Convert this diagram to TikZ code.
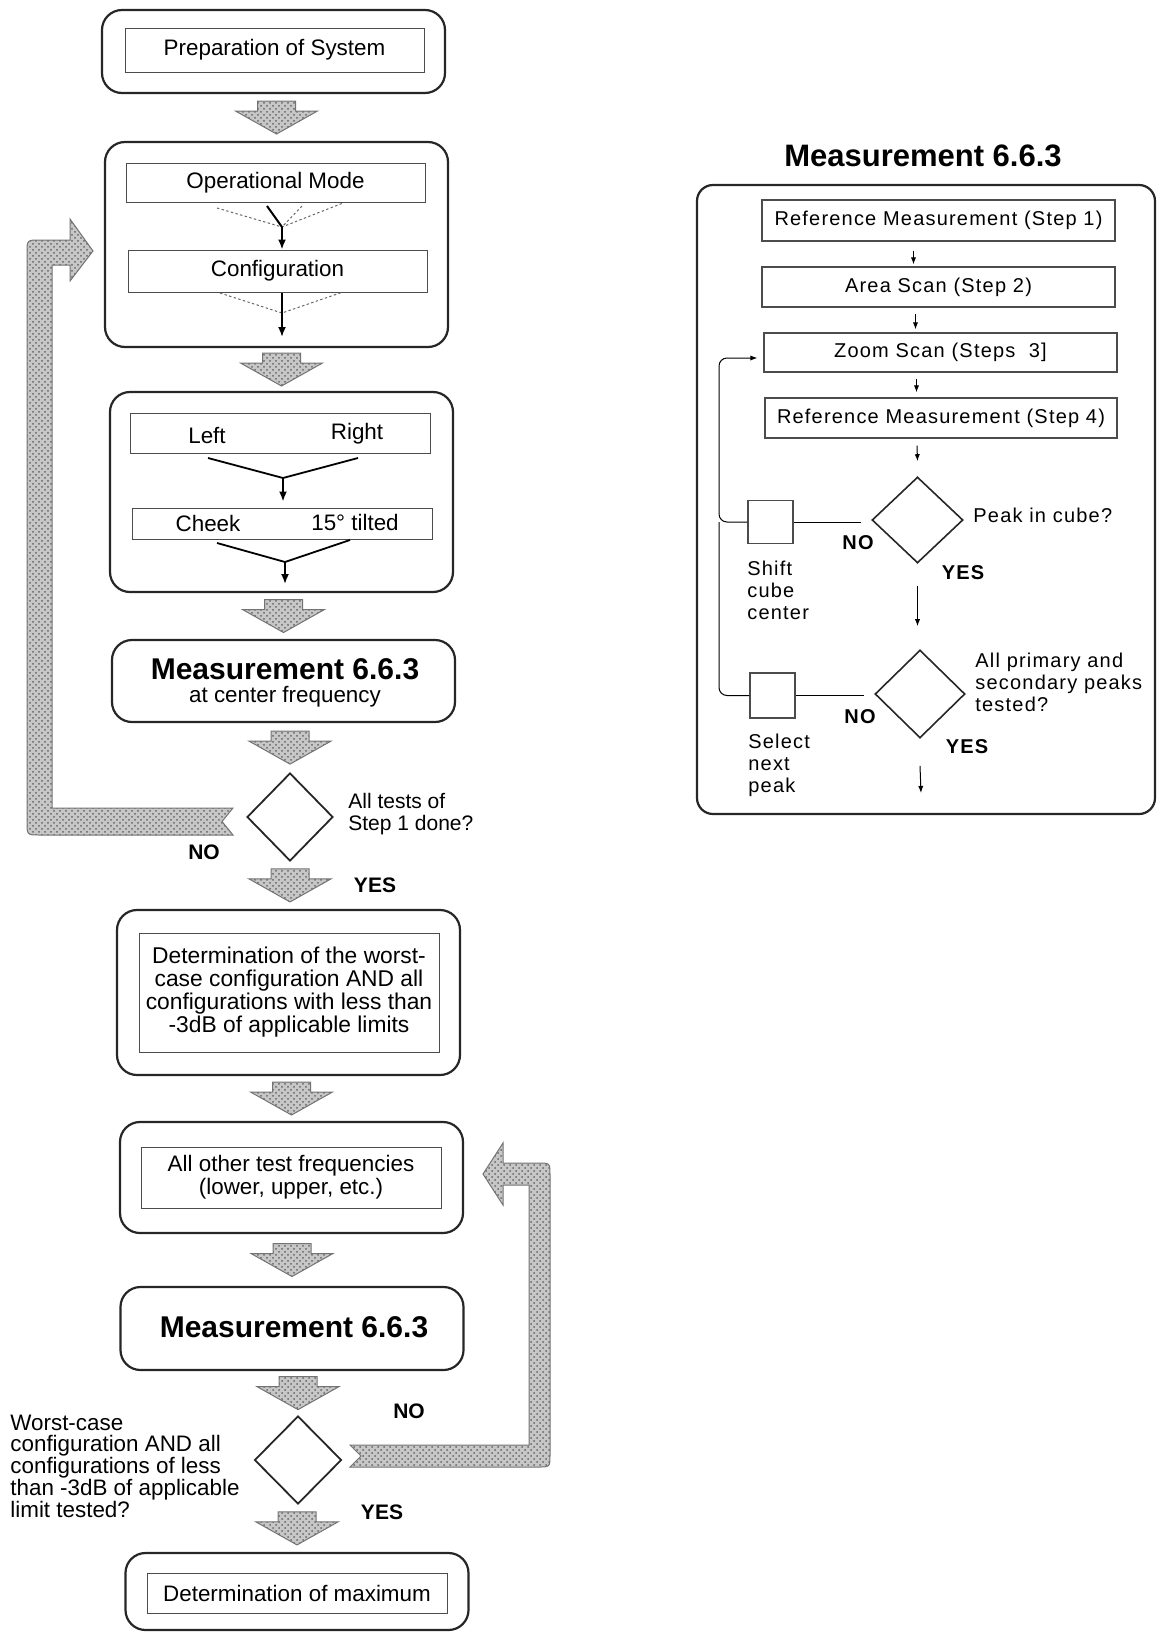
\documentclass[tikz,border=0pt]{standalone}
\usepackage{fontspec}
\setmainfont{Liberation Sans}
\newfontfamily\rfont[LetterSpace=6]{Liberation Sans}
\usetikzlibrary{shapes.geometric,arrows.meta,calc,patterns}
\tikzset{
 outer/.style={draw=black!85, line width=1.1pt, rounded corners=10pt, inner sep=0pt},
 inner/.style={draw=black!70, line width=0.5pt, inner sep=0pt, font=\fontsize{11.2}{13}\selectfont, align=center},
 fatarrow/.style={draw=black!55, line width=0.5pt, preaction={fill=black!22}, pattern=crosshatch dots, pattern color=black!60},
 dia/.style={draw=black!85, line width=0.9pt, diamond, inner sep=0pt},
 arr/.style={-{Latex[length=5pt,width=4pt]}, line width=0.9pt},
 dotl/.style={black!60, line width=0.5pt, dash pattern=on 1.2pt off 1.2pt},
 txt/.style={font=\fontsize{11.2}{13}\selectfont, inner sep=0pt},
 lbl/.style={font=\fontsize{10.5}{11}\selectfont, align=left, inner sep=0pt},
 yn/.style={font=\bfseries\fontsize{10.5}{11}\selectfont, inner sep=0pt},
 big/.style={font=\bfseries\fontsize{15}{16}\selectfont, inner sep=0pt},
 rtxt/.style={font=\rfont\fontsize{10}{11}\selectfont, inner sep=0pt, align=left},
 ryn/.style={font=\rfont\bfseries\fontsize{10}{11}\selectfont, inner sep=0pt},
 rbox/.style={draw=black!70, line width=0.6pt, inner sep=0pt, font=\rfont\fontsize{10}{11}\selectfont},
 sarr/.style={-{Latex[length=3.5pt,width=2.6pt]}, line width=0.5pt},
}
\newcommand\fatdown[2]{%
 \begin{scope}[shift={($#1!0.5!#2$)}]
 \path[fatarrow] (-19,-16.5) -- (19,-16.5) -- (19,-6.5) -- (41,-6.5) -- (0,16.5) -- (-41,-6.5) -- (-19,-6.5) -- cycle;
 \end{scope}}
\begin{document}
\begin{tikzpicture}[x=0.5pt,y=-0.5pt]
\useasboundingbox (0,0) rectangle (1160,1633);

% ---------- left column ----------
\node[outer, minimum width=171.5pt, minimum height=41.5pt] (B1) at (273.5,51.5) {};
\node[inner, minimum width=149.5pt, minimum height=22pt] (I1) at (274.5,50) {Preparation of System};

\node[outer, minimum width=171.5pt, minimum height=102.5pt] (B2) at (276.5,244.5) {};
\node[inner, minimum width=149.5pt, minimum height=19.5pt] (OM) at (275.5,182.5) {Operational Mode};
\node[inner, minimum width=149.5pt, minimum height=21pt] (CF) at (277.5,271) {Configuration};
\coordinate (J1) at (282,227);
\coordinate (om1) at (217,208);
\coordinate (om2) at (343,203);
\coordinate (om3) at (302,206);
\coordinate (om4) at (267,206);
\draw[dotl] (om1) -- (J1) -- (om2);
\draw[dotl] (om3) -- (J1);
\draw[line width=1pt] (om4) -- (J1);
\draw[arr] (J1) -- (J1 |- CF.north);
\coordinate (J4) at (282,313);
\coordinate (cf1) at (220,293);
\coordinate (cf2) at (343,292);
\coordinate (c2) at (282,337);
\draw[dotl] (cf1) -- (J4) -- (cf2);
\draw[arr] (J4 |- CF.south) -- (c2);

\node[outer, minimum width=171.5pt, minimum height=100pt] (B3) at (281.5,492) {};
\node[inner, minimum width=150pt, minimum height=20pt] (LR) at (280,433) {};
\node[txt] (tL) at (207,435) {Left};
\node[txt] (tR) at (357,434) {Right};
\node[inner, minimum width=150pt, minimum height=15.5pt] (CK) at (282,523.5) {};
\node[txt] (tC) at (208,523) {Cheek};
\node[txt] (tT) at (355,522) {15° tilted};
\coordinate (J2) at (283,478);
\coordinate (lr1) at (208,458);
\coordinate (lr2) at (358,458);
\draw[line width=0.9pt] (lr1) -- (J2) -- (lr2);
\draw[arr, shorten >=3pt] (J2) -- (J2 |- CK.north);
\coordinate (J3) at (285,562);
\coordinate (ck1) at (217,543);
\coordinate (ck2) at (350,540);
\coordinate (c3) at (285,584);
\draw[line width=0.9pt] (ck1) -- (J3) -- (ck2);
\draw[arr] (J3) -- (c3);

\node[outer, minimum width=171.5pt, minimum height=41pt] (B4) at (283.5,681) {};
\node[big] (m1) at (285,669) {Measurement 6.6.3};
\node[txt] (m1b) at (285,697) {at center frequency};

\node[dia, minimum width=43pt, minimum height=44pt] (D1) at (290,817) {};
\node[lbl, anchor=west] (q1) at (348,814) {All tests of\\Step 1 done?};
\node[yn] (no1) at (204,852) {NO};
\node[yn] (yes1) at (375,885) {YES};

\node[outer, minimum width=171.5pt, minimum height=82.5pt] (B5) at (288.5,992.5) {};
\node[inner, minimum width=150pt, minimum height=59.5pt, font=\fontsize{11.4}{11.5}\selectfont] (I5) at (289,992.5) {Determination of the worst-\\case configuration AND all\\configurations with less than\\-3dB of applicable limits};

\node[outer, minimum width=171.5pt, minimum height=55.5pt] (B6) at (291.5,1177.5) {};
\node[inner, minimum width=150pt, minimum height=30.5pt, font=\fontsize{11.2}{10.3}\selectfont] (I6) at (291,1177.5) {All other test frequencies\\(lower, upper, etc.)};

\node[outer, minimum width=171.5pt, minimum height=41.5pt] (B7) at (292,1328.5) {};
\node[big] (m2) at (294,1327) {Measurement 6.6.3};

\node[dia, minimum width=43.5pt, minimum height=44pt] (D2) at (298,1460) {};
\node[lbl, anchor=west, font=\fontsize{11.2}{10.85}\selectfont] (q2) at (10,1466) {Worst-case\\configuration AND all\\configurations of less\\than -3dB of applicable\\limit tested?};
\node[yn] (no2) at (409,1411) {NO};
\node[yn] (yes2) at (382,1512) {YES};

\node[outer, minimum width=171.5pt, minimum height=38.5pt] (B8) at (297,1591.5) {};
\node[inner, minimum width=150pt, minimum height=20pt] (I8) at (297,1593) {Determination of maximum};

% fat arrows
\fatdown{(B1.south -| B2.north)}{(B2.north)}
\fatdown{(B2.south -| B3.north)}{(B3.north)}
\fatdown{(B3.south -| B4.north)}{(B4.north)}
\fatdown{(B4.south -| D1.north)}{(D1.north)}
\fatdown{(D1.south)}{(D1.south |- B5.north)}
\fatdown{(B5.south -| B6.north)}{(B6.north)}
\fatdown{(B6.south -| B7.north)}{(B7.north)}
\fatdown{(B7.south -| D2.north)}{(D2.north)}
\fatdown{(D2.south -| B8.north)}{(B8.north)}

% loop bands
\path[fatarrow] (233,808) -- (52,808) -- (52,265) -- (70,265) -- (70,281) -- (93,251) -- (70,219) -- (70,240) -- (40,240) .. controls (27,240) .. (27,253) -- (27,822) .. controls (27,835) .. (40,835) -- (233,835) -- (222,821.5) -- cycle;
\path[fatarrow] (350,1445) -- (529,1445) -- (529,1185) -- (503,1185) -- (503,1205) -- (483,1174) -- (503,1143) -- (503,1163) -- (538,1163) .. controls (550,1163) .. (550,1175) -- (550,1455) .. controls (550,1467) .. (538,1467) -- (350,1467) -- (361,1456) -- cycle;

% ---------- right panel ----------
\node[font=\bfseries\fontsize{15.5}{16}\selectfont, inner sep=0pt] (RT) at (923,156) {Measurement 6.6.3};
\node[outer, rounded corners=8pt, minimum width=229pt, minimum height=314.5pt] (RB) at (926,499.5) {};
\node[rbox, minimum width=176.5pt, minimum height=20.5pt] (R1) at (938.5,220.5) {Reference Measurement (Step 1)};
\node[rbox, minimum width=176.5pt, minimum height=20pt] (R2) at (938.5,287) {Area Scan (Step 2)};
\node[rbox, minimum width=176.5pt, minimum height=19.5pt] (R3) at (940.5,352.5) {Zoom Scan (Steps\ \ 3]};
\node[rbox, minimum width=176pt, minimum height=20pt] (R4) at (941,418) {Reference Measurement (Step 4)};
\draw[sarr] ([xshift=-12.5pt,yshift=-4.5pt]R1.south) -- ([xshift=-12.5pt,yshift=1pt]R2.north);
\draw[sarr] ([xshift=-11.5pt,yshift=-3pt]R2.south) -- ([xshift=-12.5pt,yshift=1.5pt]R3.north);
\draw[sarr] ([xshift=-12pt,yshift=-3pt]R3.south) -- ([xshift=-12.25pt,yshift=2.5pt]R4.north);

\node[dia, line width=0.8pt, minimum width=45.5pt, minimum height=43pt] (DA) at (917.5,520) {};
\draw[sarr] ([xshift=-12pt,yshift=-3.5pt]R4.south) -- ([yshift=7.5pt]DA.north);
\node[rbox, minimum width=22.5pt, minimum height=21.5pt] (SA) at (770.5,522) {};
\draw[line width=0.5pt] (SA.east) -- ([xshift=-5pt]DA.west |- SA.east);
\coordinate (LX) at (719,0);
\coordinate (e3) at ([xshift=-3pt,yshift=-2.75pt]R3.west);
\draw[sarr, rounded corners=4pt] (SA.west) -- (SA.west -| LX) -- (LX |- e3) -- (e3);
\node[rtxt, anchor=west] (qa) at (973,515) {Peak in cube?};
\node[ryn] (noa) at (858,543) {NO};
\node[ryn] (yesa) at (963,573) {YES};
\node[rtxt, anchor=west] (sat) at (747,590) {Shift\\cube\\center};

\node[dia, line width=0.8pt, minimum width=45pt, minimum height=44pt] (DB) at (920,694) {};
\draw[sarr] ([yshift=-11pt]DA.south) -- ([yshift=11.5pt]DA.south |- DB.north);
\node[rbox, minimum width=22.5pt, minimum height=22.5pt] (SB) at (772.5,695.5) {};
\draw[line width=0.5pt] (SB.east) -- ([xshift=-5pt]DB.west |- SB.east);
\draw[line width=0.5pt, rounded corners=4pt] (SB.west) -- (SB.west -| LX) -- (SA.west -| LX);
\node[rtxt, anchor=west] (qb) at (975,682) {All primary and\\secondary peaks\\tested?};
\node[ryn] (nob) at (860,717) {NO};
\node[ryn] (yesb) at (967,747) {YES};
\node[rtxt, anchor=west] (sbt) at (748,765) {Select\\next\\peak};
\coordinate (endR) at (921,793);
\draw[sarr] ([yshift=-13.5pt]DB.south) -- (endR);
\end{tikzpicture}
\end{document}
